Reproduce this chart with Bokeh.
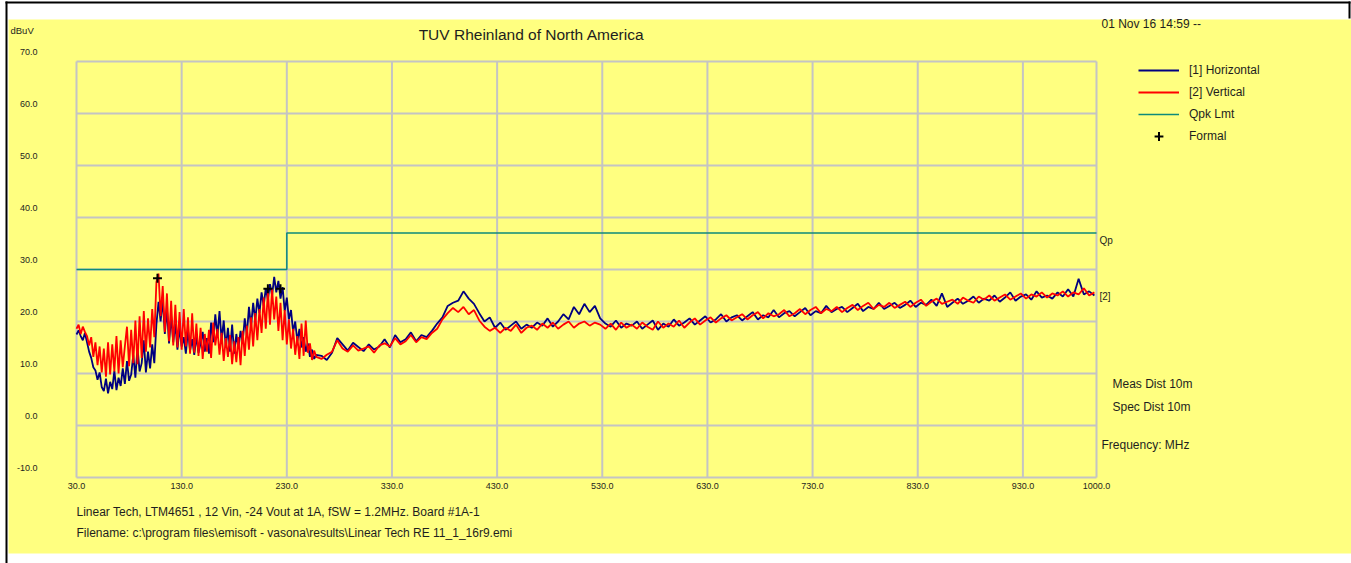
from bokeh.plotting import figure
from bokeh.models import (Label, Legend, LegendItem, FixedTicker, NumeralTickFormatter,
                          Range1d, LinearAxis, BoxAnnotation)
from bokeh.embed import file_html
from bokeh.resources import INLINE

# ---------------- data ----------------
FREQ_LOW = list(range(30, 259, 2))     # MHz sweep points 30..258
FREQ_HIGH = list(range(263, 1000, 5))  # MHz sweep points 263..998

H_LOW = [17.5, 18.3, 17.2, 16.4, 17.8, 16.0, 14.2, 13.0, 11.2, 10.6,
         8.8, 10.2, 7.4, 6.6, 9.0, 6.2, 8.4, 7.0, 10.5, 6.8,
         9.2, 7.6, 11.0, 8.0, 12.4, 8.6, 9.8, 13.6, 9.2, 15.0,
         10.4, 12.0, 16.4, 10.2, 14.2, 11.0, 15.6, 12.0, 19.5, 23.8,
         20.0, 24.2, 17.6, 22.5, 15.8, 21.0, 16.0, 19.6, 14.6, 18.8,
         15.2, 17.0, 13.8, 18.4, 14.4, 16.6, 13.6, 17.2, 14.0, 15.8,
         18.0, 14.2, 16.8, 13.8, 19.8, 16.0, 21.4, 17.2, 22.0, 16.4,
         20.2, 15.0, 18.8, 14.2, 19.4, 13.8, 17.6, 14.8, 18.2, 16.0,
         20.6, 17.4, 22.8, 19.0, 23.6, 20.2, 24.4, 21.6, 25.6, 23.0,
         26.4, 24.2, 27.2, 25.0, 28.6, 25.6, 27.8, 24.4, 26.6, 22.0,
         24.6, 20.4, 22.2, 18.0, 20.0, 16.2, 18.6, 15.0, 17.0, 14.2,
         15.8, 13.2, 14.6, 12.8, 13.6]
H_HIGH = [13.4, 12.6, 14.0, 16.8, 15.6, 14.4, 15.9, 15.1, 14.3, 15.6,
          14.6, 15.2, 16.6, 15.0, 17.4, 16.0, 16.6, 17.9, 16.2, 17.4,
          17.0, 18.2, 19.6, 20.8, 23.0, 23.6, 24.0, 25.8, 24.4, 23.4,
          21.6, 20.0, 20.8, 18.8, 19.8, 18.4, 19.2, 20.0, 18.6, 19.4,
          18.8, 19.8, 19.2, 20.6, 19.0, 20.0, 21.4, 20.4, 22.8, 21.4,
          23.4, 21.8, 23.0, 20.6, 19.6, 19.0, 20.2, 18.8, 19.6, 19.2,
          20.0, 18.6, 19.4, 20.2, 18.4, 19.6, 19.0, 20.4, 19.2, 19.8,
          20.6, 19.4, 20.2, 21.0, 19.8, 20.4, 21.4, 20.0, 20.8, 21.2,
          20.2, 21.0, 21.8, 20.4, 21.2, 20.8, 22.2, 20.8, 21.6, 22.0,
          21.0, 21.8, 22.6, 21.2, 22.0, 21.6, 23.0, 21.8, 22.4, 22.8,
          21.8, 22.6, 23.4, 22.0, 22.8, 22.4, 23.6, 22.4, 23.0, 23.6,
          22.6, 23.2, 24.0, 22.8, 23.6, 23.2, 24.2, 23.0, 25.4, 22.8,
          23.6, 24.4, 23.4, 24.0, 24.8, 23.6, 24.4, 24.0, 25.0, 23.8,
          24.6, 25.6, 24.0, 24.8, 25.2, 24.2, 25.8, 24.6, 25.0, 24.4,
          25.6, 24.8, 26.2, 24.8, 28.2, 25.2, 25.8, 25.0]

V_LOW = [18.6, 19.4, 17.6, 19.0, 18.0, 17.2, 15.4, 17.0, 13.2, 16.0,
         11.6, 15.2, 10.2, 14.8, 9.4, 16.0, 9.8, 15.6, 10.4, 17.2,
         10.0, 16.4, 11.2, 15.2, 19.0, 11.4, 18.4, 12.0, 20.2, 11.8,
         21.0, 13.0, 22.0, 14.2, 20.6, 15.0, 22.4, 17.0, 27.6, 29.2,
         21.0, 26.8, 18.0, 25.4, 16.2, 24.0, 15.4, 23.2, 15.0, 21.8,
         14.6, 22.4, 15.2, 20.8, 13.8, 21.6, 14.0, 19.6, 13.4, 18.8,
         12.8, 17.6, 14.2, 18.4, 13.0, 19.8, 15.4, 18.6, 13.6, 17.8,
         12.4, 16.8, 13.2, 17.4, 11.8, 16.2, 12.2, 17.0, 11.6, 18.2,
         13.4, 19.2, 14.6, 20.8, 15.2, 21.6, 16.4, 22.4, 17.8, 24.6,
         18.6, 25.8, 19.4, 26.2, 20.4, 24.8, 18.2, 23.6, 16.4, 22.2,
         15.6, 20.4, 14.8, 18.6, 13.6, 17.2, 12.8, 19.6, 13.4, 20.2,
         14.0, 15.8, 12.6, 14.4, 13.2]
V_HIGH = [12.8, 13.6, 14.2, 16.4, 14.8, 14.2, 15.4, 14.4, 14.8, 15.2,
          14.0, 15.4, 15.8, 15.2, 16.8, 15.6, 16.2, 17.4, 16.0, 17.0,
          16.6, 17.8, 18.6, 20.4, 21.6, 22.6, 21.8, 22.8, 21.4, 22.2,
          20.2, 19.0, 18.2, 18.8, 17.8, 18.8, 18.2, 19.4, 17.8, 18.8,
          19.2, 18.4, 19.6, 18.8, 19.8, 18.6, 19.4, 20.0, 18.8, 19.6,
          20.0, 19.2, 19.8, 19.4, 18.6, 19.6, 18.4, 19.8, 18.8, 19.4,
          18.6, 19.8, 19.0, 18.4, 20.0, 18.8, 19.6, 19.0, 20.2, 18.8,
          19.8, 20.6, 19.4, 20.2, 20.8, 19.8, 20.6, 21.2, 20.2, 20.8,
          21.4, 20.4, 21.2, 21.8, 20.6, 21.6, 21.0, 21.4, 22.2, 21.0,
          21.6, 22.4, 21.4, 22.2, 22.8, 21.6, 22.4, 22.0, 22.8, 21.8,
          22.6, 23.2, 22.2, 23.0, 23.6, 22.4, 23.2, 22.8, 23.6, 22.6,
          23.2, 23.8, 22.8, 23.6, 24.2, 23.0, 23.8, 24.4, 23.4, 23.8,
          24.2, 23.4, 24.6, 24.0, 23.6, 24.8, 24.2, 25.0, 24.0, 24.6,
          25.2, 24.2, 24.8, 25.4, 24.4, 25.2, 24.8, 25.6, 24.6, 25.4,
          25.0, 25.8, 24.8, 25.6, 25.2, 26.4, 25.0, 25.6]

LIMIT_F = [30, 230, 230, 1000]
LIMIT_V = [30, 30, 37, 37]

FORMAL_F = [107, 212, 224]
FORMAL_V = [28.3, 26.3, 26.3]

X_TICKS = [30, 130, 230, 330, 430, 530, 630, 730, 830, 930, 1000]
Y_TICKS = [-10, 0, 10, 20, 30, 40, 50, 60, 70]

FREQ = FREQ_LOW + FREQ_HIGH
HORIZ = H_LOW + H_HIGH
VERT = V_LOW + V_HIGH

# ---------------- styling / geometry ----------------
YELLOW = "#FFFF80"
GRID = "#C4C4C4"
TXT = "#1E1E1E"
FONT = "Liberation Sans"
W, H = 1351, 563

X0, X1 = 30, 1000
Y0, Y1 = -10, 70
# page-pixel edges of the plot area
FL, FR, FT, FB = 76, 1096, 61, 477


def px2x(px):
    return X0 + (px - FL) * (X1 - X0) / (FR - FL)


def py2y(py):
    return Y1 - (py - FT) * (Y1 - Y0) / (FB - FT)


p = figure(width=W, height=H,
           x_range=Range1d(px2x(0), px2x(W)), y_range=Range1d(py2y(H), py2y(0)),
           output_backend="svg", toolbar_location=None,
           min_border_left=0, min_border_right=0,
           min_border_top=0, min_border_bottom=0,
           background_fill_color="white", border_fill_color="white",
           outline_line_color=None)

# page furniture: yellow panel and black frame lines of the original document
p.add_layout(BoxAnnotation(left=px2x(8), right=px2x(W), top=py2y(19), bottom=py2y(553),
                           fill_color=YELLOW, fill_alpha=1, line_color=None, level="image"))
for l, r, t, b in [(5, 1350, 1, 3), (5, 7, 1, H), (1348, 1350, 1, 18)]:
    p.add_layout(BoxAnnotation(left=px2x(l), right=px2x(r), top=py2y(t), bottom=py2y(b),
                               fill_color="black", fill_alpha=1, line_color=None,
                               level="image"))

# x axis drawn at the bottom edge of the plot area
p.xaxis.fixed_location = Y0
p.xaxis.bounds = (X0, X1)
p.xaxis.ticker = FixedTicker(ticks=X_TICKS)
p.xaxis.formatter = NumeralTickFormatter(format="0.0")
p.xaxis.major_tick_line_color = None
p.xaxis.minor_tick_line_color = None
p.xaxis.major_tick_out = 0
p.xaxis.major_tick_in = 0
p.xaxis.axis_line_color = None
p.xaxis.major_label_standoff = 5
p.xaxis.major_label_text_font = FONT
p.xaxis.major_label_text_font_size = "9px"
p.xaxis.major_label_text_color = TXT
p.yaxis.visible = False
p.xgrid.visible = False
p.ygrid.visible = False

# y labels sit 10 px above their grid lines: shifted label range
d = 10 * (Y1 - Y0) / (FB - FT)
p.extra_y_ranges = {"ylab": Range1d(py2y(H) - d, py2y(0) - d)}
yax = LinearAxis(y_range_name="ylab", fixed_location=X0,
                 ticker=FixedTicker(ticks=Y_TICKS),
                 formatter=NumeralTickFormatter(format="0.0"),
                 axis_line_color=None, major_tick_line_color=None,
                 minor_tick_line_color=None, major_tick_out=0, major_tick_in=0,
                 major_label_standoff=FL - 37,
                 major_label_text_font=FONT, major_label_text_font_size="9px",
                 major_label_text_color=TXT)
p.add_layout(yax, "left")

# grid lines (and plot border) restricted to the plot area
p.segment(x0=X_TICKS, y0=[Y0] * len(X_TICKS), x1=X_TICKS, y1=[Y1] * len(X_TICKS),
          line_color=GRID, line_width=2, level="underlay")
p.segment(x0=[X0] * len(Y_TICKS), y0=Y_TICKS, x1=[X1] * len(Y_TICKS), y1=Y_TICKS,
          line_color=GRID, line_width=2, level="underlay")

r_h = p.line(FREQ, HORIZ, line_color="#000080", line_width=1.8)
r_v = p.line(FREQ, VERT, line_color="#FF0000", line_width=1.8)
r_l = p.line(LIMIT_F, LIMIT_V, line_color="#0E8A7A", line_width=1.5)
r_f = p.scatter(FORMAL_F, FORMAL_V, marker="cross", size=9,
                line_color="black", line_width=2)

legend = Legend(items=[LegendItem(label="[1] Horizontal", renderers=[r_h]),
                       LegendItem(label="[2] Vertical", renderers=[r_v]),
                       LegendItem(label="Qpk Lmt", renderers=[r_l]),
                       LegendItem(label="Formal", renderers=[r_f])],
                location=(1138, H - 147),
                glyph_width=41, glyph_height=22, label_height=22,
                label_standoff=10, spacing=0, padding=0, margin=0,
                border_line_color=None, background_fill_alpha=0,
                label_text_font=FONT, label_text_font_size="12px",
                label_text_color=TXT)
p.add_layout(legend)


def add_text(text, px, py, size, align="left"):
    p.add_layout(Label(x=px2x(px), y=py2y(py), text=text,
                       text_align=align, text_baseline="middle",
                       text_font=FONT, text_font_size=size, text_color=TXT))


add_text("dBuV", 10, 30, "9.5px")
add_text("TUV Rheinland of North America", 531, 34, "15.5px", align="center")
add_text("01 Nov 16 14:59 --", 1101, 23, "12px")
add_text("Qp", 1099, 240, "10px")
add_text("[2]", 1099, 296, "10px")
add_text("Meas Dist 10m", 1112, 383, "12px")
add_text("Spec Dist 10m", 1112, 406, "12px")
add_text("Frequency: MHz", 1101, 444, "12px")
add_text("Linear Tech, LTM4651 , 12 Vin, -24 Vout at 1A, fSW = 1.2MHz. Board #1A-1",
         76, 511, "12px")
add_text("Filename: c:\\program files\\emisoft - vasona\\results\\Linear Tech RE 11_1_16r9.emi",
         76, 532, "12px")

open("out.html", "w").write(file_html(p, INLINE))
